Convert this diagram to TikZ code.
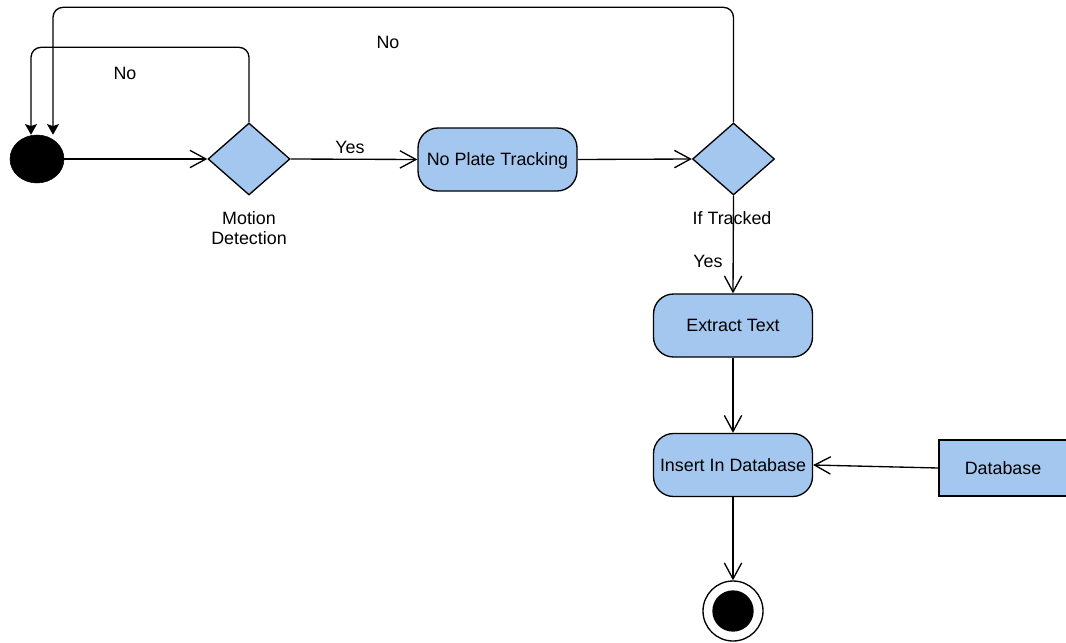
\documentclass[tikz,border=0pt]{standalone}
\usepackage{fontspec}
\setmainfont{Liberation Sans}
\usetikzlibrary{shapes.geometric,arrows.meta,calc}
\definecolor{fillblue}{RGB}{164,199,240}
\begin{document}
\begin{tikzpicture}[x=0.75pt,y=-0.75pt,
  every node/.style={font=\fontsize{13.4}{15}\selectfont},
  line/.style={draw=black,line width=1pt},
  openarrow/.style={line,-{Straight Barb[length=12pt,width=13pt]}},
  filledarrow/.style={line,rounded corners=7.5pt,-{Stealth[length=8pt,width=9pt,inset=1.5pt]}},
  activity/.style={draw=black,line width=1pt,fill=fillblue,rounded corners=15pt,
    minimum width=119.25pt,minimum height=47.25pt,inner sep=0pt,text depth=0pt},
  decision/.style={diamond,draw=black,line width=1pt,fill=fillblue,
    minimum width=61.5pt,minimum height=54pt,inner sep=0pt},
  store/.style={rectangle,draw=black,line width=1pt,fill=fillblue,
    minimum width=100pt,minimum height=42pt,inner sep=0pt},
  lbl/.style={inner sep=1pt}]
\useasboundingbox (0,0) rectangle (1066,642);

\node[ellipse,fill=black,draw=black,minimum width=40.5pt,minimum height=36pt,inner sep=0pt] (start) at (37,159) {};
\node[decision] (d1) at (249,159) {};
\node[lbl,align=center] (mdlbl) at (249,228) {Motion\\Detection};
\node[activity] (npt) at (497.5,159.5) {No Plate Tracking};
\node[decision] (d2) at (733.5,159) {};
\node[lbl] (itlbl) at (732,218) {If Tracked};
\node[activity] (ext) at (733,325.5) {Extract Text};
\node[activity] (ins) at (733,465) {Insert In Database};
\node[store] (db) at (1005.7,468) {};
\node[lbl] (dbtext) at (1003,468) {Database};
\node[circle,draw=black,line width=1pt,minimum size=45pt,inner sep=0pt] (endo) at (733,611) {};
\node[circle,fill=black,minimum size=31pt,inner sep=0pt] (endi) at (733,611) {};

\node[lbl] (no1) at (125,73) {No};
\node[lbl] (no2) at (388,42) {No};
\node[lbl] (yes1) at (350,147) {Yes};
\node[lbl] (yes2) at (708,261) {Yes};

\draw[openarrow] (start) -- (d1.west);
\draw[openarrow] (d1.east) -- (npt.west);
\draw[openarrow] (npt.east) -- (d2.west);
\draw[openarrow] (d2.south) -- (ext.north);
\draw[openarrow] (ext.south) -- (ins.north);
\draw[openarrow] (db.west) -- (ins.east);
\draw[openarrow] (ins.south) -- (endo.north);

\draw[filledarrow] (d1.north) -- ($(d1.north)+(0,-75)$) -| ([xshift=-4.5pt]start.north);
\draw[filledarrow] (d2.north) -- ($(d2.north)+(0,-115)$) -| ([xshift=12pt]start.north);
\end{tikzpicture}
\end{document}
